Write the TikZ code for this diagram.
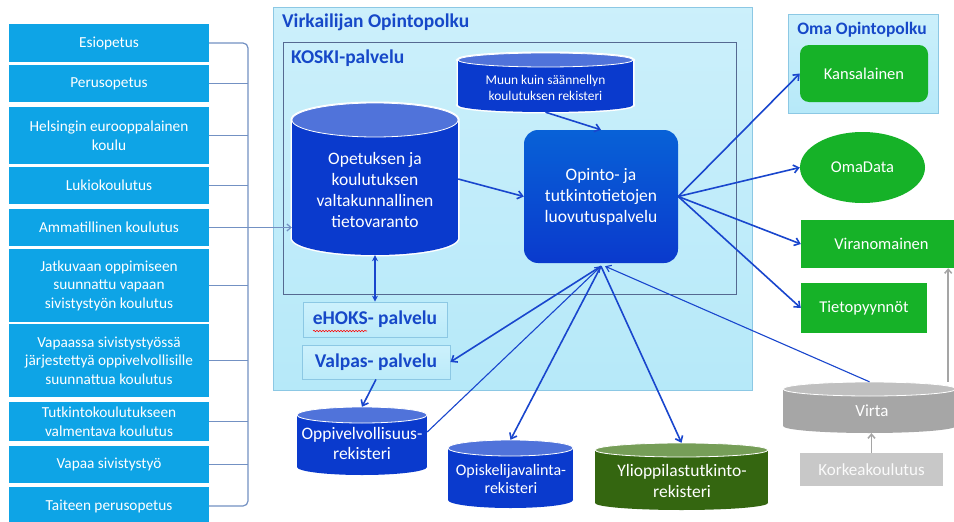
\documentclass[tikz,border=0pt]{standalone}
\usepackage{fontspec}
\setmainfont{Carlito}
\usetikzlibrary{arrows.meta,calc,shapes.geometric,decorations.pathmorphing}
\definecolor{lbox}{RGB}{14,164,230}
\definecolor{panel}{RGB}{182,233,249}
\definecolor{panelb}{RGB}{140,200,228}
\definecolor{koskib}{RGB}{85,105,145}
\definecolor{ttl}{RGB}{22,72,200}
\definecolor{cylb}{RGB}{10,58,205}
\definecolor{cylt}{RGB}{80,115,218}
\definecolor{arrb}{RGB}{25,70,205}
\definecolor{grn}{RGB}{22,178,40}
\definecolor{dgrn}{RGB}{52,102,16}
\definecolor{lgrn}{RGB}{118,158,88}
\definecolor{gcyl}{RGB}{166,166,166}
\definecolor{gcylt}{RGB}{192,192,192}
\definecolor{gbox}{RGB}{200,200,200}
\definecolor{garr}{RGB}{165,165,165}
\definecolor{brk}{RGB}{115,145,195}
\definecolor{svc}{RGB}{205,241,252}
\newcommand\dbcyl[8]{%
  \pgfmathsetmacro\cylcx{(#2+#4)/2}%
  \pgfmathsetmacro\cylrx{(#4-#2)/2}%
  \pgfmathsetmacro\cylw{#4-#2}%
  \pgfmathsetmacro\cylh{#5-#3}%
  \pgfmathsetmacro\cylcy{(#3+#5)/2}%
  \draw[white, line width=3pt] (\cylcx,#3+#6) ellipse [x radius=\cylrx pt, y radius=#6 pt]
     (\cylcx,#5-#6) ellipse [x radius=\cylrx pt, y radius=#6 pt]
     (#2,#3+#6) rectangle (#4,#5-#6);
  \fill[#7] (\cylcx,#5-#6) ellipse [x radius=\cylrx pt, y radius=#6 pt];
  \fill[#7] (#2,#3+#6) rectangle (#4,#5-#6);
  \fill[#8] (\cylcx,#3+#6) ellipse [x radius=\cylrx pt, y radius=#6 pt];
  \draw[white, line width=0.8pt] (\cylcx,#3+#6) ellipse [x radius=\cylrx pt, y radius=#6 pt];
  \node[inner sep=0pt, minimum width=\cylw pt, minimum height=\cylh pt] (#1) at (\cylcx,\cylcy) {};
}
\tikzset{
  lb/.style={fill=lbox, text=white, minimum width=200, inner sep=1pt, align=center,
    font=\fontsize{15.3}{18.5}\selectfont},
  brkline/.style={draw=brk, line width=1.2pt},
  arr/.style={draw=arrb, line width=1.6pt, -{Straight Barb[length=5pt,width=8pt]}},
  thinarr/.style={draw=arrb, line width=1.1pt, -{Straight Barb[length=5pt,width=7pt]}},
  ctext/.style={text=white, align=center},
  svcbox/.style={draw=panelb, line width=0.8pt, top color=svc, bottom color=panel!80!svc,
    text=ttl, font=\fontsize{19.5}{22}\bfseries\selectfont, inner sep=0pt},
  gbx/.style={fill=grn, text=white, inner sep=0pt, font=\fontsize{16.5}{20}\selectfont},
  garrow/.style={draw=garr, line width=1.5pt, -{Straight Barb[length=4pt,width=7pt]}},
}
\begin{document}
\begin{tikzpicture}[x=1pt,y=-1pt]
\useasboundingbox (0,0) rectangle (954,522);
\clip (0,0) rectangle (954,522);
\fill[white] (0,0) rectangle (954,522);

% left boxes
\node[lb, minimum height=38] (b1) at (109,43) {Esiopetus};
\node[lb, minimum height=37] (b2) at (109,83.5) {Perusopetus};
\node[lb, minimum height=57] (b3) at (109,135.5) {Helsingin eurooppalainen\\koulu};
\node[lb, minimum height=37] (b4) at (109,185.5) {Lukiokoulutus};
\node[lb, minimum height=37] (b5) at (109,227.5) {Ammatillinen koulutus};
\node[lb, minimum height=73] (b6) at (109,285.5) {Jatkuvaan oppimiseen\\suunnattu vapaan\\sivistystyön koulutus};
\node[lb, minimum height=73] (b7) at (109,360.5) {Vapaassa sivistystyössä\\järjestettyä oppivelvollisille\\suunnattua koulutus};
\node[lb, minimum height=39] (b8) at (109,421.5) {Tutkintokoulutukseen\\valmentava koulutus};
\node[lb, minimum height=37] (b9) at (109,464.5) {Vapaa sivistystyö};
\node[lb, minimum height=38] (b10) at (109,506) {Taiteen perusopetus};

% panels
\node[draw=panelb, line width=0.8pt, top color=panel!70!white, bottom color=panel, minimum width=479, minimum height=383, inner sep=0pt] (virk) at (512.5,198.5) {};
\node[anchor=west, text=ttl, font=\fontsize{19.5}{22}\bfseries\selectfont, inner sep=0pt] (virkt) at (282,22) {Virkailijan Opintopolku};
\node[draw=koskib, line width=1pt, minimum width=453, minimum height=252, inner sep=0pt] (koski) at (509.5,168) {};
\node[anchor=west, text=ttl, font=\fontsize{19.5}{22}\bfseries\selectfont, inner sep=0pt] (koskit) at (291,58) {KOSKI-palvelu};
\node[draw=panelb, line width=0.8pt, top color=panel!70!white, bottom color=panel, minimum width=150, minimum height=99, inner sep=0pt] (oma) at (863,63.5) {};
\node[text=ttl, font=\fontsize{17.5}{20}\bfseries\selectfont, inner sep=0pt] (omat) at (862,30) {Oma Opintopolku};

% bracket
\coordinate (vb) at (248,270);
\draw[brkline, rounded corners=5pt] (b1.east) -| (vb) |- (b10.east);
\foreach \b in {b2,b3,b4,b6,b7,b8,b9} \draw[brkline] (\b.east) -- (\b.east -| vb);

% cylinders
\dbcyl{muun}{458}{53}{633}{112}{7}{cylb}{cylt}
\node[ctext, font=\fontsize{13.4}{16}\selectfont] (muunt) at (545.5,88) {Muun kuin säännellyn\\koulutuksen rekisteri};
\dbcyl{big}{292}{103}{458}{255}{17}{cylb}{cylt}
\node[ctext, font=\fontsize{17.5}{21}\selectfont] (bigt) at (375,190) {Opetuksen ja\\koulutuksen\\valtakunnallinen\\tietovaranto};
\dbcyl{oppiv}{297}{407}{427}{475}{8}{cylb}{cylt}
\node[ctext, font=\fontsize{17.5}{19.5}\selectfont] (oppivt) at (362,443.5) {Oppivelvollisuus-\\rekisteri};
\dbcyl{opisk}{448}{440}{573}{508}{8}{cylb}{cylt}
\node[ctext, font=\fontsize{16}{18.5}\selectfont] (opiskt) at (511,479) {Opiskelijavalinta-\\rekisteri};
\dbcyl{ylio}{595}{443}{768}{510}{7}{dgrn}{lgrn}
\node[ctext, font=\fontsize{17.5}{21}\selectfont] (yliot) at (682,480.5) {Ylioppilastutkinto-\\rekisteri};
\dbcyl{virta}{783}{382}{956}{433}{7}{gcyl}{gcylt}
\node[ctext, font=\fontsize{17}{20}\selectfont] (virtat) at (872,411) {Virta};

% central service
\node[rounded corners=14pt, top color=cylb!80!cyan, bottom color=cylb, minimum width=154, minimum height=133, inner sep=0pt, ctext, font=\fontsize{17.5}{21}\selectfont] (op) at (601,196.5) {Opinto- ja\\tutkintotietojen\\luovutuspalvelu};

% services
\node[svcbox, minimum width=144, minimum height=35] (ehoks) at (375,319.5) {eHOKS- palvelu};
\draw[red, line width=0.6pt, decorate, decoration={snake, amplitude=0.7pt, segment length=3pt}] (313,331) -- (367,331);
\node[svcbox, minimum width=148, minimum height=34] (valpas) at (376,362) {Valpas- palvelu};

% right side
\node[gbx, rounded corners=9pt, minimum width=128, minimum height=57] (kans) at (864,73.5) {Kansalainen};
\node[gbx, ellipse, minimum width=125, minimum height=71] (omad) at (862.5,167.5) {OmaData};
\node[gbx, minimum width=161, minimum height=48] (viran) at (881.5,244) {Viranomainen};
\node[gbx, minimum width=126, minimum height=50] (tieto) at (864,308) {Tietopyynnöt};
\node[fill=gbox, text=white!96!gray, minimum width=143, minimum height=33, inner sep=0pt, font=\fontsize{17}{20}\selectfont] (korkea) at (871.5,469.5) {Korkeakoulutus};

% connectors
\draw[brkline, -{Straight Barb[length=4pt,width=7pt]}] (b5.east) -- (b5.east -| big.west);
\draw[arr] (muun.south) -- (op.north);
\draw[arr] (big.east) -- (op.west);
\draw[draw=arrb, line width=1.6pt, {Stealth[length=6pt,width=6pt]}-{Stealth[length=6pt,width=6pt]}] (big.south) -- (ehoks.north);
\coordinate (opb) at ($(op.south)+(0,3)$);
\draw[arr] (opb) -- (valpas.east);
\draw[thinarr] ([yshift=9pt]oppiv.east) -- (opb);
\draw[arr] (opb) -- (opisk.north);
\draw[arr] (opb) -- (ylio.north);
\draw[thinarr] (virta.north) -- ($(opb)+(4,0)$);
\draw[arr] (valpas.south) -- (oppiv.north);
\draw[arr] (op.east) -- (kans.west);
\draw[arr] (op.east) -- (omad.west);
\draw[arr] (op.east) -- (viran.west);
\draw[arr] (op.east) -- (tieto.west);
\draw[garrow] ([xshift=-8pt]virta.north east) -- ([xshift=-8pt]virta.north east |- viran.south);
\draw[garrow] (korkea.north) -- (korkea.north |- virta.south);
\end{tikzpicture}
\end{document}
